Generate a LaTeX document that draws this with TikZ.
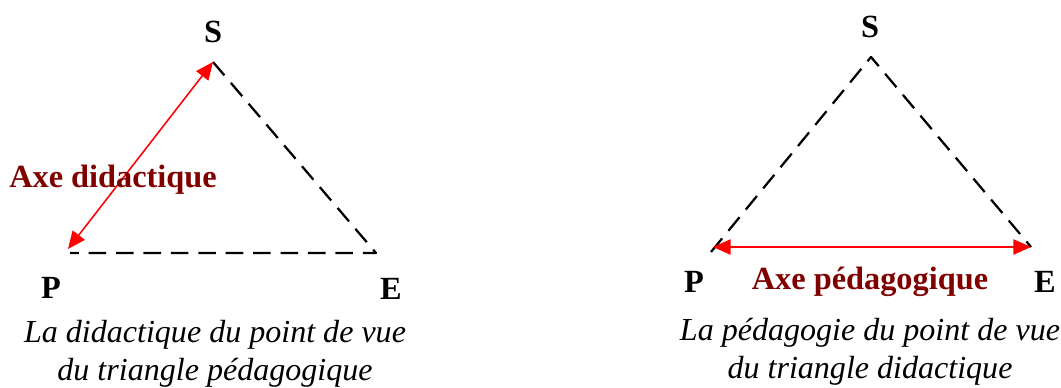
\documentclass[tikz,border=0pt]{standalone}
\usepackage{fontspec}
\setmainfont{Liberation Serif}
\usetikzlibrary{arrows.meta}
\definecolor{axered}{RGB}{128,0,0}
\tikzset{
	sommet/.style={font=\fontsize{23}{27}\selectfont\bfseries, inner sep=0pt},
	axe/.style={font=\fontsize{23}{27}\selectfont\bfseries, text=axered, inner sep=0pt},
	legende/.style={font=\fontsize{22.8}{27}\selectfont\itshape, align=center, inner sep=0pt},
	cote/.style={black, line width=1.6pt, dash pattern=on 12.5pt off 7pt},
	fleche/.style={red, line width=1.1pt, {Triangle[length=4.4mm,width=3.8mm]}-{Triangle[length=4.4mm,width=3.8mm]}}
}
\begin{document}
\begin{tikzpicture}[x=0.25mm, y=-0.25mm, line join=round]
	\useasboundingbox (0,0) rectangle (1061,388);
	% triangle pedagogique
	\begin{scope}
		\coordinate (S1) at (213,62);
		\coordinate (P1) at (70,253);
		\coordinate (E1) at (376,253);
		\draw[cote] (S1)--(E1)--(P1);
		\draw[fleche] (68,249)--(S1);
		\node[sommet] (s1) at (213,32) {S};
		\node[sommet] (p1) at (51,288) {P};
		\node[sommet] (e1) at (391,289) {E};
		\node[axe] (axe1) at (113,180) {Axe didactique};
		\node[legende] (leg1) at (215,354) {La didactique du point de vue\\du triangle pédagogique};
	\end{scope}
	% triangle didactique
	\begin{scope}
		\coordinate (S2) at (871,57);
		\coordinate (P2) at (711,252);
		\coordinate (E2) at (1031,247);
		\draw[cote] (P2)--(S2)--(E2);
		\draw[fleche] (713,247)--(E2);
		\node[sommet] (s2) at (870,27) {S};
		\node[sommet] (p2) at (694,282) {P};
		\node[sommet] (e2) at (1045,282) {E};
		\node[axe] (axe2) at (870,282) {Axe pédagogique};
		\node[legende] (leg2) at (870,352) {La pédagogie du point de vue\\du triangle didactique};
	\end{scope}
\end{tikzpicture}
\end{document}
